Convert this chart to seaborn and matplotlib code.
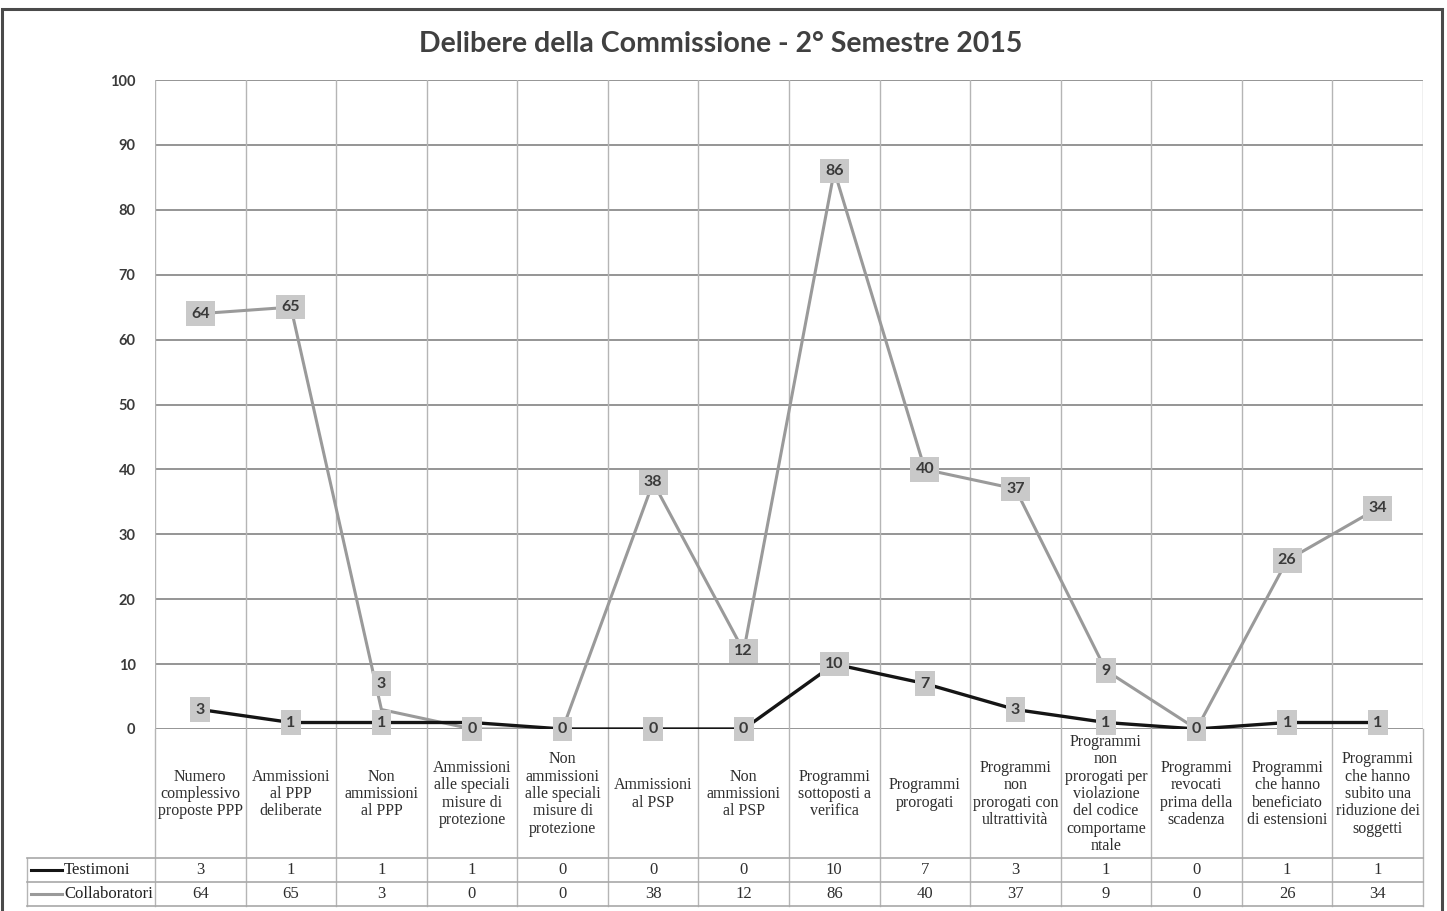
import matplotlib
matplotlib.use("Agg")
import matplotlib.pyplot as plt
import seaborn as sns
import pandas as pd
import numpy as np
from matplotlib.patches import Rectangle
from matplotlib.lines import Line2D

categories = [
    "Numero\ncomplessivo\nproposte PPP",
    "Ammissioni\nal PPP\ndeliberate",
    "Non\nammissioni\nal PPP",
    "Ammissioni\nalle speciali\nmisure di\nprotezione",
    "Non\nammissioni\nalle speciali\nmisure di\nprotezione",
    "Ammissioni\nal PSP",
    "Non\nammissioni\nal PSP",
    "Programmi\nsottoposti a\nverifica",
    "Programmi\nprorogati",
    "Programmi\nnon\nprorogati con\nultrattività",
    "Programmi\nnon\nprorogati per\nviolazione\ndel codice\ncomportame\nntale",
    "Programmi\nrevocati\nprima della\nscadenza",
    "Programmi\nche hanno\nbeneficiato\ndi estensioni",
    "Programmi\nche hanno\nsubito una\nriduzione dei\nsoggetti",
]
testimoni = [3, 1, 1, 1, 0, 0, 0, 10, 7, 3, 1, 0, 1, 1]
collaboratori = [64, 65, 3, 0, 0, 38, 12, 86, 40, 37, 9, 0, 26, 34]
series_names = ["Testimoni", "Collaboratori"]
series_colors = ["#151515", "#9a9a9a"]
yticks = list(range(0, 101, 10))
title = "Delibere della Commissione - 2° Semestre 2015"

W, H = 1447, 911
fig = plt.figure(figsize=(W / 100, H / 100), dpi=100)
fig.patch.set_facecolor("white")

# plot area in pixels
px_l, px_r, px_t, px_b = 155, 1423, 80, 729
ax = fig.add_axes([px_l / W, 1 - px_b / H, (px_r - px_l) / W, (px_b - px_t) / H])
n = len(categories)
x = np.arange(n)

df = pd.DataFrame({
    "x": np.concatenate([x, x]),
    "value": testimoni + collaboratori,
    "serie": [series_names[0]] * n + [series_names[1]] * n,
})

# Collaboratori below, Testimoni above
sns.lineplot(data=df[df.serie == series_names[1]], x="x", y="value", color=series_colors[1],
             lw=2.2, ax=ax, legend=False, sort=False, zorder=3)
sns.lineplot(data=df[df.serie == series_names[0]], x="x", y="value", color=series_colors[0],
             lw=2.4, ax=ax, legend=False, sort=False, zorder=4)

ax.set_xlim(-0.5, n - 0.5)
ax.set_ylim(0, 100)
ax.set_yticks(yticks)
ax.set_yticklabels([str(t) for t in yticks], fontfamily="Lato", fontweight="bold",
                   fontsize=10.5, color="#3a3a3a")
ax.tick_params(axis="y", length=0, pad=14)
ax.set_xticks([])
ax.set_xlabel("")
ax.set_ylabel("")
for s in ax.spines.values():
    s.set_visible(False)

# grid
for t in yticks:
    ax.axhline(t, color="#8c8c8c", lw=1.3, zorder=1)
for b in np.arange(-0.5, n, 1.0):
    ax.axvline(b, color="#b5b5b5", lw=1.0, zorder=1)

# data labels
box = dict(boxstyle="square,pad=0.33", fc="#c9c9c9", ec="none")
lab_kw = dict(ha="center", va="center", fontfamily="Lato", fontweight="bold",
              fontsize=11.5, color="#3a3a3a", zorder=6)
for i in range(n):
    t, c = testimoni[i], collaboratori[i]
    cy = c
    if abs(t - c) <= 1:
        show_t = (t == c)
    else:
        show_t = True
        if abs(t - c) < 4:
            cy = c + 4
    if show_t and t != c:
        ax.text(i, t, str(t), bbox=box, **lab_kw)
    ax.text(i, cy, str(c), bbox=box, **lab_kw)

# table beneath the plot
axh = px_b - px_t
def ay(py):
    return -(py - px_b) / axh
axw = px_r - px_l
def axx(px):
    return (px - px_l) / axw

row_lines = [858, 882, 906]
tr = ax.transAxes
for b in np.arange(-0.5, n, 1.0):
    xa = (b + 0.5) / n
    ax.add_line(Line2D([xa, xa], [0, ay(906)], transform=tr, color="#b5b5b5", lw=1.0, clip_on=False))
ax.add_line(Line2D([axx(27), axx(27)], [ay(858), ay(906)], transform=tr, color="#b5b5b5", lw=1.0, clip_on=False))
for ry in row_lines:
    ax.add_line(Line2D([axx(27), 1], [ay(ry), ay(ry)], transform=tr, color="#a8a8a8", lw=1.2, clip_on=False))

cat_kw = dict(ha="center", va="center", fontfamily="Liberation Serif", fontsize=11.5,
              color="#2e2e2e", linespacing=1.12, transform=ax.get_xaxis_transform(), clip_on=False)
for i, lab in enumerate(categories):
    ax.text(i, ay(794), lab, **cat_kw)

num_kw = dict(ha="center", va="center", fontfamily="Liberation Serif", fontsize=12,
              color="#2e2e2e", transform=ax.get_xaxis_transform(), clip_on=False)
for i in range(n):
    ax.text(i, ay(870), str(testimoni[i]), **num_kw)
    ax.text(i, ay(894), str(collaboratori[i]), **num_kw)

# legend keys in table
for name, col, ry in zip(series_names, series_colors, [870, 894]):
    ax.add_line(Line2D([axx(31), axx(62)], [ay(ry), ay(ry)], transform=tr, color=col, lw=2.2, clip_on=False))
    ax.text(axx(64), ay(ry), name, transform=tr, ha="left", va="center",
            fontfamily="Liberation Serif", fontsize=12, color="#222222", clip_on=False)

# title
fig.text(721 / W, 1 - 44 / H, title, ha="center", va="center", fontfamily="Lato",
         fontweight="bold", fontsize=20.5, color="#404040")

# outer border
fig.add_artist(Rectangle((2 / W, -0.02), 1440 / W, 1.02 - 9 / H, transform=fig.transFigure,
                         fill=False, ec="#4a4a4a", lw=2.2))

fig.savefig("out.png", dpi=100, facecolor="white")
